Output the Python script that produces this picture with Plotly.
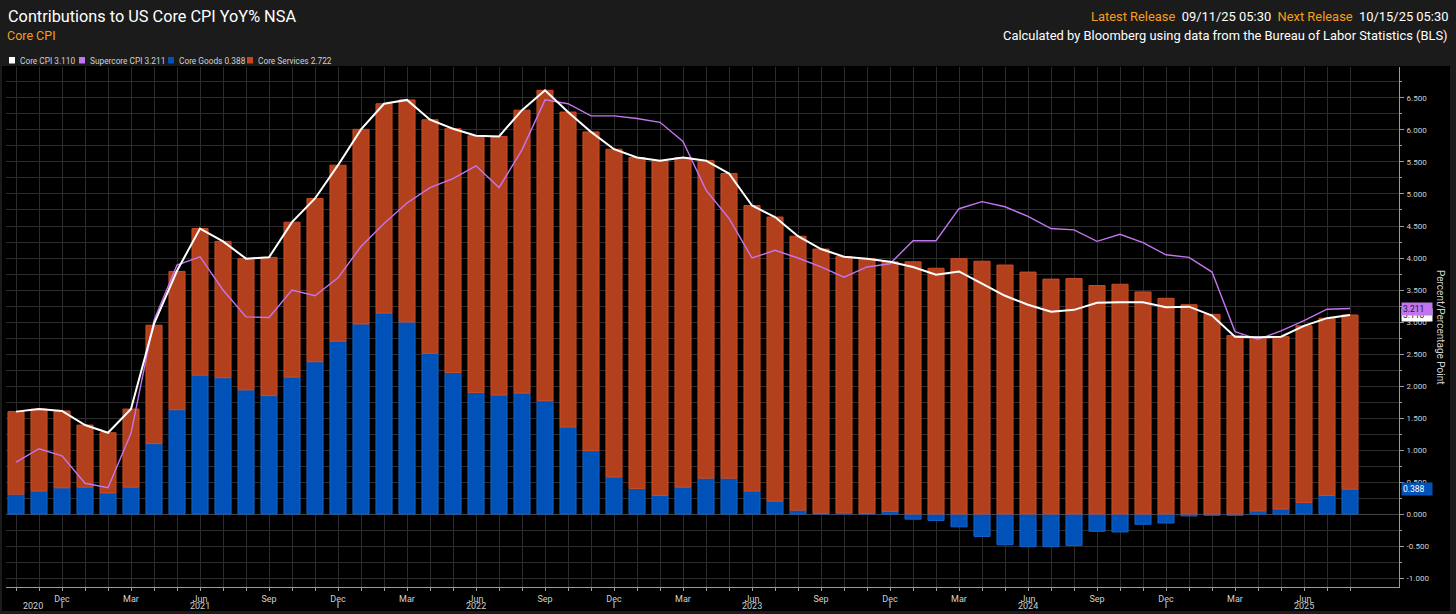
import plotly.graph_objects as go

# ---------------- data ----------------
months = [
    "Oct 2020", "Nov 2020", "Dec 2020",
    "Jan 2021", "Feb 2021", "Mar 2021", "Apr 2021", "May 2021", "Jun 2021",
    "Jul 2021", "Aug 2021", "Sep 2021", "Oct 2021", "Nov 2021", "Dec 2021",
    "Jan 2022", "Feb 2022", "Mar 2022", "Apr 2022", "May 2022", "Jun 2022",
    "Jul 2022", "Aug 2022", "Sep 2022", "Oct 2022", "Nov 2022", "Dec 2022",
    "Jan 2023", "Feb 2023", "Mar 2023", "Apr 2023", "May 2023", "Jun 2023",
    "Jul 2023", "Aug 2023", "Sep 2023", "Oct 2023", "Nov 2023", "Dec 2023",
    "Jan 2024", "Feb 2024", "Mar 2024", "Apr 2024", "May 2024", "Jun 2024",
    "Jul 2024", "Aug 2024", "Sep 2024", "Oct 2024", "Nov 2024", "Dec 2024",
    "Jan 2025", "Feb 2025", "Mar 2025", "Apr 2025", "May 2025", "Jun 2025",
    "Jul 2025", "Aug 2025",
]

core_cpi = [
    1.60, 1.64, 1.61,
    1.39, 1.27, 1.64, 2.97, 3.80, 4.46, 4.26, 3.99, 4.01, 4.56, 4.93, 5.45,
    6.01, 6.41, 6.47, 6.16, 6.02, 5.91, 5.90, 6.31, 6.62, 6.28, 5.97, 5.70,
    5.57, 5.52, 5.57, 5.52, 5.32, 4.82, 4.64, 4.34, 4.14, 4.02, 3.99, 3.94,
    3.86, 3.74, 3.79, 3.60, 3.41, 3.27, 3.16, 3.19, 3.30, 3.31, 3.31, 3.23,
    3.24, 3.10, 2.77, 2.76, 2.77, 2.94, 3.06, 3.110,
]

supercore_cpi = [
    0.81, 1.02, 0.91,
    0.48, 0.41, 1.26, 3.03, 3.89, 4.02, 3.50, 3.08, 3.07, 3.50, 3.41, 3.69,
    4.18, 4.54, 4.86, 5.10, 5.24, 5.44, 5.10, 5.69, 6.47, 6.41, 6.22, 6.22,
    6.18, 6.12, 5.82, 5.06, 4.62, 4.00, 4.12, 4.00, 3.86, 3.70, 3.86, 3.91,
    4.27, 4.27, 4.77, 4.88, 4.80, 4.65, 4.46, 4.44, 4.26, 4.37, 4.24, 4.05,
    4.01, 3.78, 2.85, 2.73, 2.86, 3.02, 3.20, 3.211,
]

core_goods = [
    0.31, 0.36, 0.41,
    0.42, 0.33, 0.42, 1.10, 1.63, 2.17, 2.13, 1.94, 1.85, 2.14, 2.38, 2.70,
    2.97, 3.14, 3.00, 2.51, 2.21, 1.90, 1.86, 1.89, 1.77, 1.36, 0.99, 0.58,
    0.40, 0.29, 0.42, 0.56, 0.56, 0.36, 0.20, 0.06, 0.01, 0.02, 0.01, 0.04,
    -0.08, -0.10, -0.20, -0.35, -0.48, -0.51, -0.51, -0.49, -0.27, -0.28, -0.16, -0.14,
    -0.03, -0.02, -0.02, 0.05, 0.08, 0.18, 0.29, 0.388,
]

core_services = [
    1.29, 1.28, 1.20,
    0.97, 0.94, 1.22, 1.85, 2.16, 2.29, 2.13, 2.05, 2.16, 2.42, 2.55, 2.75,
    3.04, 3.27, 3.47, 3.65, 3.81, 4.01, 4.04, 4.42, 4.85, 4.92, 4.98, 5.12,
    5.17, 5.23, 5.15, 4.96, 4.76, 4.46, 4.44, 4.28, 4.13, 4.00, 3.98, 3.90,
    3.94, 3.84, 3.99, 3.95, 3.89, 3.78, 3.67, 3.68, 3.57, 3.59, 3.47, 3.37,
    3.27, 3.12, 2.79, 2.71, 2.69, 2.76, 2.77, 2.722,
]

quarter_labels = ["Dec", "Mar", "Jun", "Sep"]
y_tick_values = [-1.0, -0.5, 0.0, 0.5, 1.0, 1.5, 2.0, 2.5, 3.0, 3.5,
                 4.0, 4.5, 5.0, 5.5, 6.0, 6.5]

title_text = "Contributions to US Core CPI YoY% NSA"
subtitle_text = "Core CPI"
source_text = "Calculated by Bloomberg using data from the Bureau of Labor Statistics (BLS)"
y_title = "Percent/Percentage Point"

# ---------------- styling / layout constants ----------------
W, H = 1456, 614
ML, MR, MT, MB = 6, 57, 67, 27
PW, PH = W - ML - MR, H - MT - MB
X0, X1 = -0.435, 60.13
Y0, Y1 = -1.14, 6.984

FONT = "Roboto"
ORANGE = "#F59E1E"
WHITE = "#FFFFFF"
PURPLE = "#C276EE"
BLUE = "#0052B8"
RED = "#B3401D"
GRID = "#2C2C2C"
AXIS = "#9A9A9A"
TICKTXT = "#D0D0D0"
HEADER_BG = "#1B1B1B"


def pxx(px):
    return (px - ML) / PW


def pxy(py):
    return (H - MB - py) / PH


def idx_x(i):
    return (i - X0) / (X1 - X0)


fig = go.Figure()

fig.add_trace(go.Bar(
    x=months, y=core_goods, name="Core Goods", width=0.7,
    marker=dict(color=BLUE, line=dict(color="#1464CC", width=1)),
))
fig.add_trace(go.Bar(
    x=months, y=core_services, name="Core Services", width=0.7,
    marker=dict(color=RED, line=dict(color="#CC4B22", width=1)),
))
fig.add_trace(go.Scatter(
    x=months, y=supercore_cpi, mode="lines", name="Supercore CPI",
    line=dict(color=PURPLE, width=1.4),
))
fig.add_trace(go.Scatter(
    x=months, y=core_cpi, mode="lines", name="Core CPI",
    line=dict(color=WHITE, width=2),
))

# x tick labels
abbr = [m.split()[0] for m in months]
x_ticktext = [a if a in quarter_labels else "" for a in abbr]

annotations = []
shapes = []

# header background & borders
shapes.append(dict(type="rect", xref="paper", yref="paper", layer="below",
                   x0=pxx(0), x1=pxx(W), y0=pxy(66), y1=pxy(0),
                   fillcolor=HEADER_BG, line=dict(width=0)))
shapes.append(dict(type="rect", xref="paper", yref="paper", layer="below",
                   x0=pxx(1450), x1=pxx(W), y0=pxy(H), y1=pxy(0),
                   fillcolor=HEADER_BG, line=dict(width=0)))
shapes.append(dict(type="rect", xref="paper", yref="paper", layer="below",
                   x0=pxx(0), x1=pxx(W), y0=pxy(H), y1=pxy(611),
                   fillcolor=HEADER_BG, line=dict(width=0)))
shapes.append(dict(type="rect", xref="paper", yref="paper", layer="below",
                   x0=pxx(0), x1=pxx(2), y0=pxy(H), y1=pxy(0),
                   fillcolor=HEADER_BG, line=dict(width=0)))

# titles
annotations.append(dict(text=title_text, xref="paper", yref="paper",
                        x=pxx(6), y=pxy(17), xanchor="left", yanchor="middle",
                        showarrow=False, font=dict(family=FONT, size=16.3, color=WHITE)))
annotations.append(dict(text=subtitle_text, xref="paper", yref="paper",
                        x=pxx(5), y=pxy(35), xanchor="left", yanchor="middle",
                        showarrow=False, font=dict(family=FONT, size=12.5, color=ORANGE)))
nb = "\u00a0"
rel = (f"<span style='color:{ORANGE}'>Latest Release</span>{nb}{nb}09/11/25 05:30{nb}{nb}"
       f"<span style='color:{ORANGE}'>Next Release</span>{nb}{nb}10/15/25 05:30")
annotations.append(dict(text=rel, xref="paper", yref="paper",
                        x=pxx(1450), y=pxy(17), xanchor="right", yanchor="middle",
                        showarrow=False, font=dict(family=FONT, size=12.9, color=WHITE)))
annotations.append(dict(text=source_text, xref="paper", yref="paper",
                        x=pxx(1450), y=pxy(35), xanchor="right", yanchor="middle",
                        showarrow=False, font=dict(family=FONT, size=12.9, color=WHITE)))

# custom legend
legend_items = [
    ("Core CPI", core_cpi[-1], WHITE, 9, 18),
    ("Supercore CPI", supercore_cpi[-1], PURPLE, 79, 88),
    ("Core Goods", core_goods[-1], BLUE, 168, 177),
    ("Core Services", core_services[-1], "#C4471F", 247, 256),
]
for name, val, col, sx, tx in legend_items:
    shapes.append(dict(type="rect", xref="paper", yref="paper",
                       x0=pxx(sx), x1=pxx(sx + 6), y0=pxy(63.5), y1=pxy(57),
                       fillcolor=col, line=dict(width=0)))
    annotations.append(dict(text=f"{name}{nb}{val:.3f}", xref="paper", yref="paper",
                            x=pxx(tx), y=pxy(60.5), xanchor="left", yanchor="middle",
                            showarrow=False,
                            font=dict(family=FONT, size=8.3, color=TICKTXT)))

# year labels and separators
annotations.append(dict(text="2020", xref="paper", yref="paper",
                        x=idx_x(0.74), y=pxy(606), xanchor="center", yanchor="middle",
                        showarrow=False, font=dict(family=FONT, size=9, color=TICKTXT)))
for i, m in enumerate(months):
    a, yr = m.split()
    if a == "Jun":
        annotations.append(dict(text=yr, xref="paper", yref="paper",
                                x=idx_x(i), y=pxy(606), xanchor="center", yanchor="middle",
                                showarrow=False,
                                font=dict(family=FONT, size=9, color=TICKTXT)))
    if a == "Dec":
        shapes.append(dict(type="line", xref="paper", yref="paper",
                           x0=idx_x(i), x1=idx_x(i), y0=pxy(602), y1=pxy(608),
                           line=dict(color=TICKTXT, width=1)))

# axis title on the right, reading top-to-bottom
annotations.append(dict(text=y_title, xref="paper", yref="paper",
                        x=pxx(1441), y=pxy(328), xanchor="center", yanchor="middle",
                        textangle=90, showarrow=False,
                        font=dict(family=FONT, size=10, color=TICKTXT)))

# last-value tags at the right axis
tags = [
    (core_cpi[-1], WHITE, "#111111"),
    (supercore_cpi[-1], PURPLE, "#1A1A1A"),
    (core_goods[-1], BLUE, WHITE),
]
for val, bg, fg in tags:
    annotations.append(dict(text=f"{val:.3f}", xref="paper", yref="y",
                            x=pxx(1401), y=val, xanchor="left", yanchor="middle",
                            showarrow=False, bgcolor=bg, width=28, align="left",
                            borderpad=1,
                            font=dict(family=FONT, size=8.5, color=fg)))

fig.update_layout(
    width=W, height=H,
    margin=dict(l=ML, r=MR, t=MT, b=MB),
    paper_bgcolor="#000000", plot_bgcolor="#000000",
    barmode="relative", bargap=0.3,
    showlegend=False, hovermode=False,
    font=dict(family=FONT, color=TICKTXT),
    annotations=annotations, shapes=shapes,
    xaxis=dict(
        type="category", range=[X0, X1],
        tickmode="array", tickvals=months, ticktext=x_ticktext,
        ticks="outside", ticklen=3, tickcolor=AXIS, tickwidth=1,
        showgrid=True, gridcolor=GRID, gridwidth=1,
        showline=True, linecolor=AXIS, linewidth=1,
        tickfont=dict(family=FONT, size=9, color=TICKTXT),
        zeroline=False, fixedrange=True,
    ),
    yaxis=dict(
        side="right", range=[Y0, Y1],
        tickmode="array", tickvals=y_tick_values,
        ticktext=[f"{v:.3f}" for v in y_tick_values],
        ticks="outside", ticklen=4, tickcolor=AXIS,
        showgrid=True, gridcolor=GRID, gridwidth=1,
        minor=dict(dtick=0.25, tick0=0, ticks="outside", ticklen=2,
                   tickcolor=AXIS, showgrid=True, gridcolor=GRID),
        showline=True, linecolor=AXIS, linewidth=1,
        zeroline=True, zerolinecolor="#444444", zerolinewidth=1,
        tickfont=dict(family=FONT, size=8, color=TICKTXT),
        ticklabelstandoff=1, fixedrange=True,
    ),
)

fig.write_html(
    "out.html",
    config={"displayModeBar": False},
    post_script="document.body.style.margin='0px';document.body.style.background='#000';",
)
